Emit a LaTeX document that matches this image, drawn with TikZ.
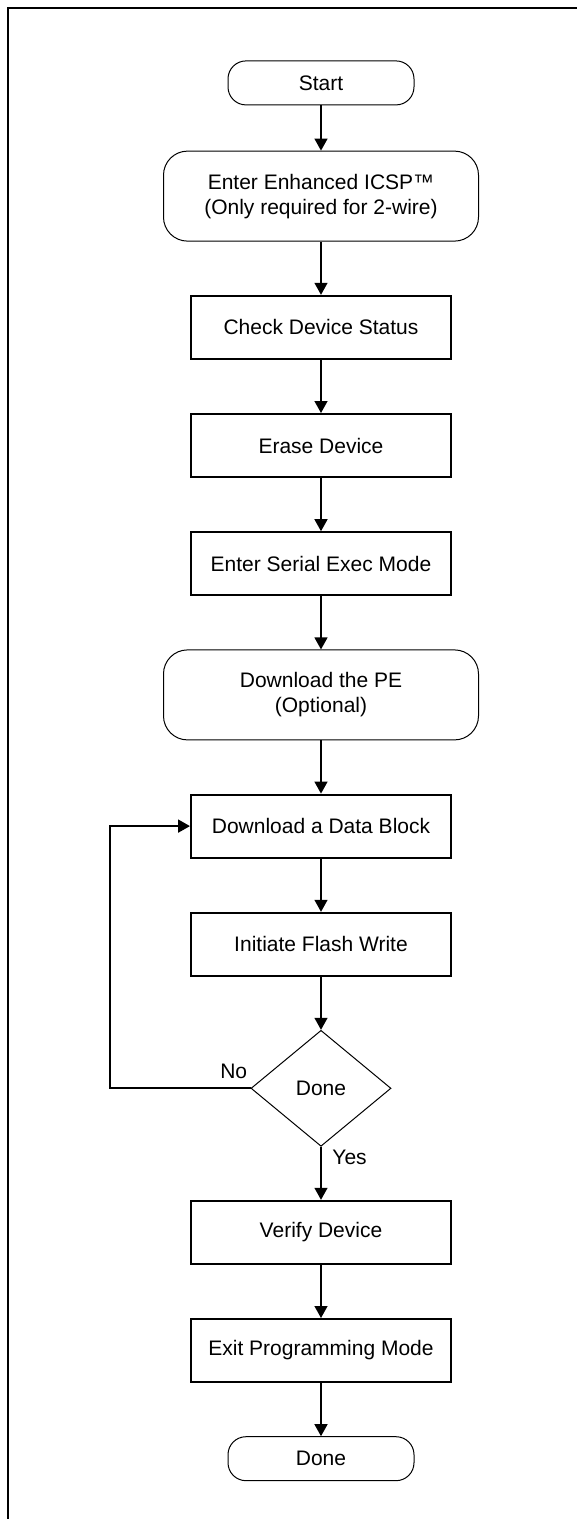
\documentclass[tikz,border=0pt]{standalone}
\usepackage{fontspec}
\setmainfont{Liberation Sans}
\usetikzlibrary{matrix,positioning,shapes.geometric,arrows.meta}

\begin{document}
\begin{tikzpicture}[
        % define styles
        term/.style={
            draw, line width=0.5pt,
            rounded corners=9pt,
            minimum width=93pt, minimum height=22pt
        },
        rbox/.style={
            draw, line width=0.5pt,
            rounded corners=12pt,
            minimum width=157.5pt, minimum height=45pt
        },
        proc/.style={
            draw, line width=1pt,
            minimum width=130pt, minimum height=31.5pt
        },
        dec/.style={
            draw, diamond, aspect=1.2, line width=0.5pt,
            inner sep=0pt,
            minimum width=70pt, minimum height=58pt
        },
        lbl/.style={inner sep=1.5pt},
        net/.style={
            matrix of nodes,
            nodes={inner sep=2pt},
            row sep=26.6pt,
            inner sep=0pt
        },
        flow/.style={->, line width=0.7pt},
        font=\fontsize{10.5}{12.5}\selectfont,
        >={Triangle[length=6pt,width=6.5pt]}
    ]
    \useasboundingbox (0,0) rectangle (288.5pt,-759.5pt);

    % frame round the figure
    \draw[line width=1pt] (3.75pt,-760pt) -- (3.75pt,-4.25pt) -- (289pt,-4.25pt);

    % define matrix mat to hold the steps, one per row
    \matrix[net, anchor=north] (mat) at (160.5pt,-30pt)
    {
    |[term]| Start \\[-4pt]
    |[rbox]| \parbox{150pt}{\centering Enter Enhanced ICSP™\\(Only required for 2-wire)} \\
    |[proc]| Check Device Status \\
    |[proc]| Erase Device \\
    |[proc]| Enter Serial Exec Mode \\
    |[rbox]| \parbox{150pt}{\centering Download the PE\\(Optional)} \\
    |[proc]| Download a Data Block \\
    |[proc]| Initiate Flash Write \\
    |[dec]| Done \\
    |[proc]| Verify Device \\
    |[proc]| Exit Programming Mode \\
    |[term]| Done \\
    };

    % lines from each step to the next one
    \foreach \ai [count=\aii from 2] in {1,...,11}
        \draw[flow] (mat-\ai-1) -- (mat-\aii-1);

    % loop back from the decision
    \draw[flow, line width=1pt] (mat-9-1.west) -- ++(-70.5pt,0) |- (mat-7-1.west);

    \node[lbl, anchor=south east] (no) at ([yshift=3pt]mat-9-1.west) {No};
    \node[lbl, anchor=north west] (yes) at ([xshift=4pt]mat-9-1.south) {Yes};

    \end{tikzpicture}
\end{document}
